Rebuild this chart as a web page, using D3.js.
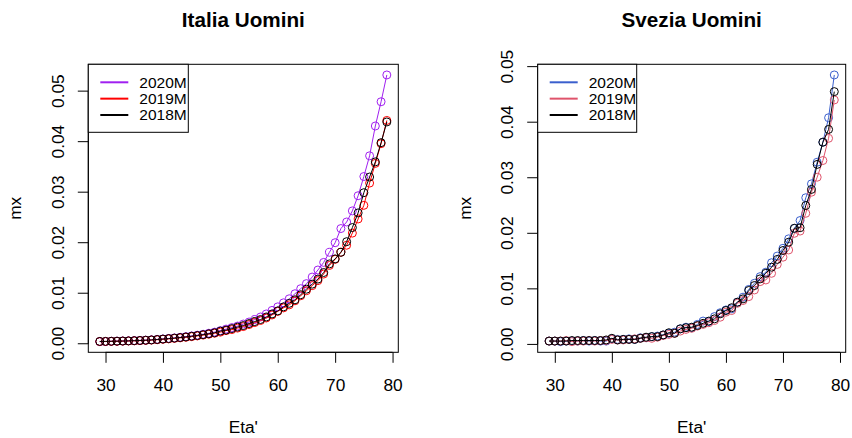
<!DOCTYPE html>
<meta charset="utf-8">
<style type="text/css">
  body { margin: 0; background: #fff; }
  svg { display: block; }
  text { font-family: "Liberation Sans", Arial, Helvetica, sans-serif; fill: #000; }
</style>
<body>
<script src="https://cdn.jsdelivr.net/npm/d3@7/dist/d3.min.js"></script>
<script>
// ages on the x axis
var ages = d3.range(29, 80);

// Italia, men
var ita2020 = [.00042,.00044,.00049,.00052,.00055,.00058,.00062,.00066,.00071,.00078,.00086,
  .00095,.00105,.00115,.00127,.0014,.00155,.0017,.00188,.00208,.0023,
  .0026,.0029,.0032,.0035,.0039,.0043,.0048,.0053,.0059,.0066,
  .0073,.0081,.0089,.0099,.0109,.0119,.0132,.0146,.0161,.0181,
  .0200,.0228,.0241,.0263,.0293,.0331,.0372,.0431,.0479,.0532];
var ita2019 = [.00044,.00045,.00047,.00049,.00052,.00055,.00058,.00062,.00067,.00073,.0008,
  .00088,.00097,.00106,.00117,.00128,.00141,.00155,.00171,.00189,.00208,
  .0023,.0026,.0028,.0031,.0034,.0038,.0042,.0046,.0051,.0057,
  .0064,.0071,.0077,.0085,.0095,.0105,.0115,.0125,.0138,.0155,
  .0167,.0181,.0195,.0219,.0247,.0274,.0318,.0357,.0396,.0442];
var ita2018 = [.00046,.00047,.00049,.00051,.00054,.00057,.00061,.00065,.0007,.00076,.00084,
  .00093,.00102,.00112,.00123,.00135,.00149,.00163,.0018,.00198,.00218,
  .0025,.0027,.0030,.0033,.0036,.0040,.0044,.0048,.0053,.0059,
  .0065,.0073,.0080,.0087,.0097,.0108,.0118,.0128,.0141,.0158,
  .0168,.0181,.0202,.0230,.0259,.0299,.0330,.0360,.0398,.0439];

// Svezia, men
var swe2020 = [.0006,.0006,.0005,.0006,.0006,.0006,.0007,.0006,.0007,.0006,.0006,
  .0010,.0009,.0009,.0010,.0009,.0012,.0012,.0014,.0015,.0017,
  .0020,.0022,.0028,.0031,.0030,.0036,.0042,.0041,.0050,.0057,
  .0062,.0064,.0076,.0085,.0099,.0110,.0122,.0130,.0147,.0159,
  .0173,.0190,.0209,.0223,.0264,.0289,.0328,.0364,.0408,.0485];
var swe2019 = [.0006,.0006,.0006,.0007,.0005,.0006,.0006,.0007,.0006,.0007,.0007,
  .0009,.0008,.0008,.0009,.0010,.0011,.0012,.0011,.0013,.0016,
  .0018,.0020,.0024,.0027,.0029,.0033,.0036,.0039,.0043,.0049,
  .0058,.0061,.0074,.0079,.0086,.0098,.0113,.0116,.0128,.0144,
  .0157,.0170,.0200,.0204,.0236,.0274,.0301,.0331,.0371,.0440];
var swe2018 = [.0006,.0006,.0006,.0006,.0007,.0007,.0007,.0007,.0007,.0007,.0008,
  .0011,.0008,.0009,.0009,.0009,.0011,.0013,.0014,.0014,.0017,
  .0021,.0020,.0028,.0030,.0031,.0034,.0038,.0042,.0046,.0055,
  .0061,.0066,.0076,.0082,.0097,.0106,.0118,.0128,.0139,.0153,
  .0169,.0184,.0209,.0210,.0250,.0279,.0324,.0364,.0387,.0455];

var legendLabels = ["2020M", "2019M", "2018M"];
var xTicks = [30, 40, 50, 60, 70, 80];
var yTicks = [0, 0.01, 0.02, 0.03, 0.04, 0.05];

var panels = [
  {title: "Italia Uomini", series: [ita2020, ita2019, ita2018],
   colors: ["#A020F0", "#FF0000", "#000000"], left: 88.3, right: 398.3},
  {title: "Svezia Uomini", series: [swe2020, swe2019, swe2018],
   colors: ["#3A5FCD", "#DF536B", "#000000"], left: 537.7, right: 845.7}
];

var plotTop = 64.3, plotBottom = 352.3, tickLen = 10.5;

var svg = d3.select("body").append("svg")
  .attr("width", 852).attr("height", 438);
svg.append("rect").attr("width", 852).attr("height", 438).attr("fill", "#fff");

// R style padding: 4% on each side of the data range
function pad(ext) {
  var s = ext[1] - ext[0];
  return [ext[0] - 0.04 * s, ext[1] + 0.04 * s];
}

panels.forEach(function(p) {
  var g = svg.append("g");
  var x = d3.scaleLinear().domain(pad(d3.extent(ages))).range([p.left, p.right]);
  var y = d3.scaleLinear().domain(pad(d3.extent(p.series[0]))).range([plotBottom, plotTop]);
  var cx = (p.left + p.right) / 2;

  // series: lines + open circles
  p.series.forEach(function(s, i) {
    var pts = ages.map(function(a, k) { return [a, s[k]]; });
    g.append("path")
      .datum(pts)
      .attr("fill", "none")
      .attr("stroke", p.colors[i])
      .attr("stroke-width", 1)
      .attr("d", d3.line().x(function(d){ return x(d[0]); }).y(function(d){ return y(d[1]); }));
    g.selectAll(null).data(pts).enter().append("circle")
      .attr("cx", function(d){ return x(d[0]); })
      .attr("cy", function(d){ return y(d[1]); })
      .attr("r", 4)
      .attr("fill", "none")
      .attr("stroke", p.colors[i])
      .attr("stroke-width", 1);
  });

  // box
  g.append("rect")
    .attr("x", p.left).attr("y", plotTop)
    .attr("width", p.right - p.left).attr("height", plotBottom - plotTop)
    .attr("fill", "none").attr("stroke", "#000").attr("stroke-width", 1);

  // x axis
  var xa = g.append("g").attr("transform", "translate(0," + plotBottom + ")")
    .call(d3.axisBottom(x).tickValues(xTicks).tickSize(tickLen).tickPadding(16).tickFormat(d3.format("d")));
  xa.select(".domain").attr("d", "M" + x(30) + ",0H" + x(80));
  xa.selectAll("text").style("font-size", "17.3px").style("font-family", "Liberation Sans, Arial, sans-serif");

  // y axis, labels parallel to the axis as in R
  var ya = g.append("g").attr("transform", "translate(" + p.left + ",0)")
    .call(d3.axisLeft(y).tickValues(yTicks).tickSize(tickLen).tickFormat(d3.format(".2f")));
  ya.select(".domain").attr("d", "M0," + y(0) + "V" + y(0.05));
  ya.selectAll(".tick").attr("transform", null);
  ya.selectAll(".tick line").attr("y1", function(d){ return y(d); }).attr("y2", function(d){ return y(d); });
  ya.selectAll("text")
    .attr("x", null).attr("y", null).attr("dy", null)
    .attr("text-anchor", "middle")
    .attr("transform", function(d){ return "translate(-24.5," + y(d) + ") rotate(-90)"; })
    .style("font-size", "17.3px").style("font-family", "Liberation Sans, Arial, sans-serif");

  // titles and axis labels
  g.append("text").attr("x", cx).attr("y", 27).attr("text-anchor", "middle")
    .style("font-size", "20.7px").style("font-weight", "bold").text(p.title);
  g.append("text").attr("x", cx).attr("y", 433).attr("text-anchor", "middle")
    .style("font-size", "17.3px").text("Eta'");
  g.append("text").attr("transform", "translate(" + (p.left - 67) + "," + ((plotTop + plotBottom) / 2) + ") rotate(-90)")
    .attr("text-anchor", "middle").style("font-size", "17.3px").text("mx");

  // legend
  var lg = g.append("g").attr("transform", "translate(" + p.left + "," + plotTop + ")");
  var lw = p.left < 400 ? 100 : 99;
  lg.append("rect").attr("width", lw).attr("height", 68)
    .attr("fill", "#fff").attr("stroke", "#000").attr("stroke-width", 1);
  legendLabels.forEach(function(lab, i) {
    var ry = 18 + i * 16.35;
    lg.append("line").attr("x1", 12).attr("x2", 40).attr("y1", ry).attr("y2", ry)
      .attr("stroke", p.colors[i]).attr("stroke-width", 2);
    lg.append("text").attr("x", 51).attr("y", ry + 5.5)
      .style("font-size", "15.5px").text(lab);
  });
});
</script>
</body>
